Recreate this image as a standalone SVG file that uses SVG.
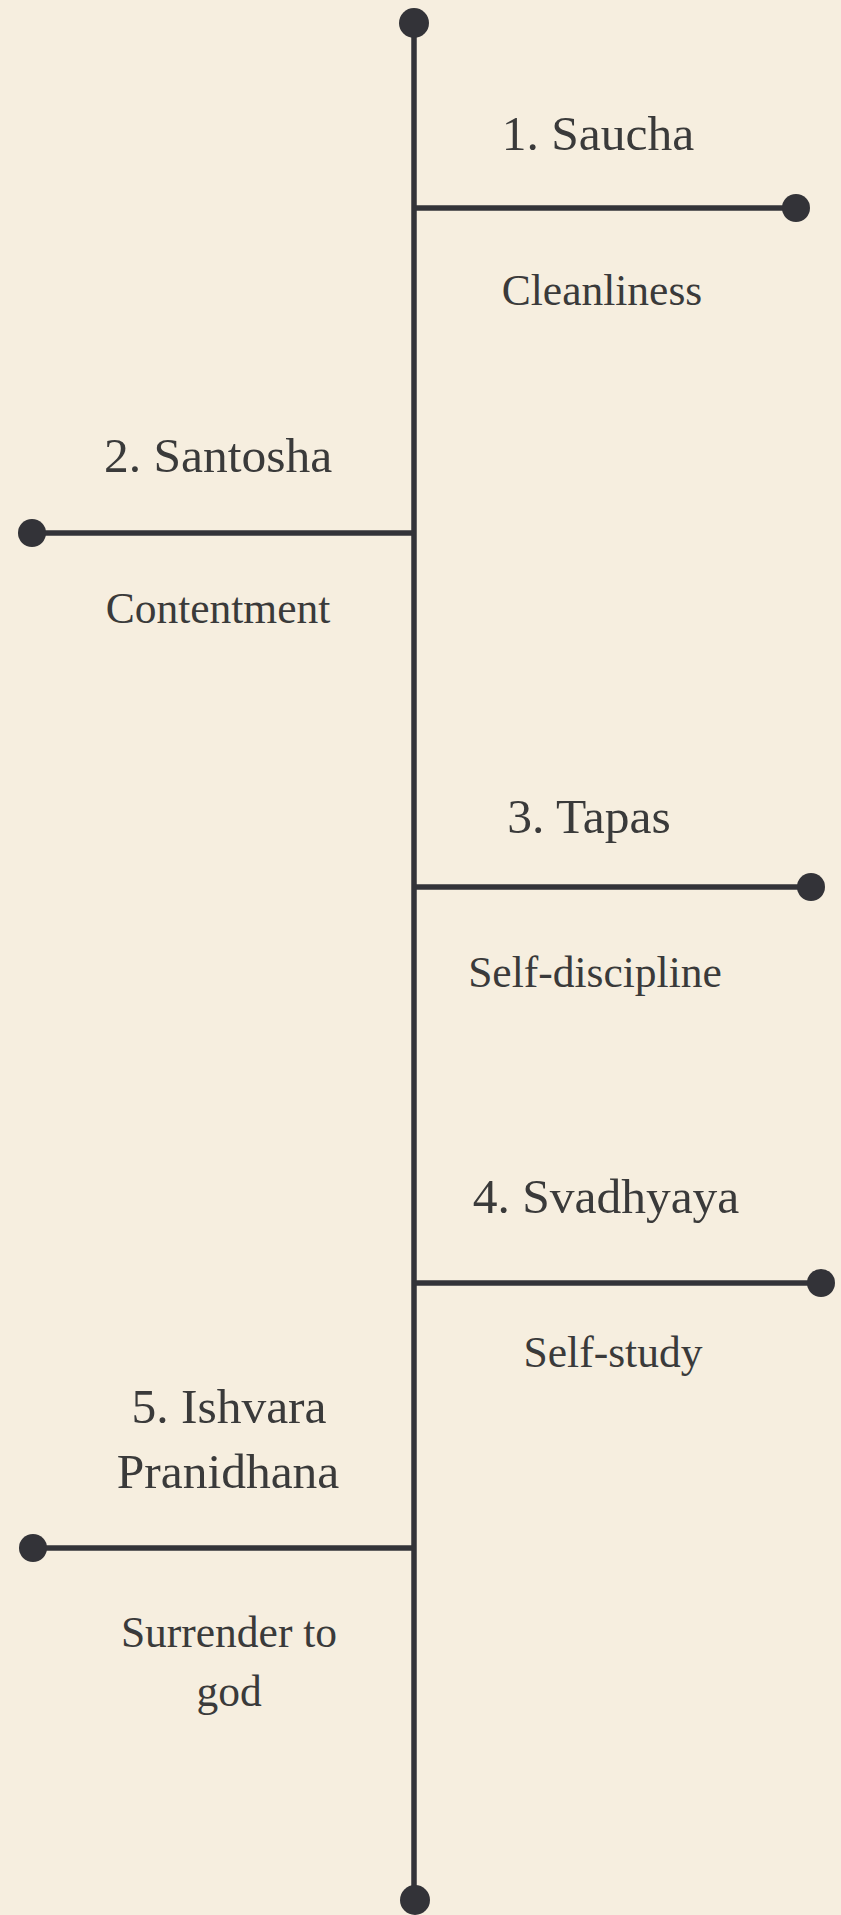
<svg xmlns="http://www.w3.org/2000/svg" width="841" height="1915" viewBox="0 0 841 1915">
<style>
.ln{stroke:#333338;stroke-width:5.5;fill:none}
.dot{fill:#333338}
.t{font-family:"Liberation Serif","Times New Roman",serif;fill:#3a3a3a;text-anchor:middle}
.h{font-size:49.5px}
.s{font-size:43.5px}
</style>
<rect width="841" height="1915" fill="#F6EEDF"/>
<g id="connectors">
<line class="ln" x1="414" y1="23" x2="414" y2="1900"/>
<line class="ln" x1="414" y1="208" x2="796" y2="208"/>
<line class="ln" x1="32" y1="533" x2="414" y2="533"/>
<line class="ln" x1="414" y1="887" x2="811" y2="887"/>
<line class="ln" x1="414" y1="1283" x2="821" y2="1283"/>
<line class="ln" x1="33" y1="1548" x2="414" y2="1548"/>
</g>
<g id="start"><circle class="dot" cx="414" cy="23" r="15"/></g>
<g id="end"><circle class="dot" cx="415" cy="1900" r="15"/></g>
<g id="n1">
<circle class="dot" cx="796" cy="208" r="14"/>
<text class="t h" x="598" y="150">1. Saucha</text>
<text class="t s" x="602" y="305">Cleanliness</text>
</g>
<g id="n2">
<circle class="dot" cx="32" cy="533" r="14"/>
<text class="t h" x="218" y="472">2. Santosha</text>
<text class="t s" x="218" y="623">Contentment</text>
</g>
<g id="n3">
<circle class="dot" cx="811" cy="887" r="14"/>
<text class="t h" x="589" y="833">3. Tapas</text>
<text class="t s" x="595" y="987">Self-discipline</text>
</g>
<g id="n4">
<circle class="dot" cx="821" cy="1283" r="14"/>
<text class="t h" x="606" y="1213">4. Svadhyaya</text>
<text class="t s" x="613" y="1367">Self-study</text>
</g>
<g id="n5">
<circle class="dot" cx="33" cy="1548" r="14"/>
<text class="t h" x="229" y="1423">5. Ishvara</text>
<text class="t h" x="228" y="1488">Pranidhana</text>
<text class="t s" x="229" y="1647">Surrender to</text>
<text class="t s" x="229" y="1706">god</text>
</g>
</svg>
